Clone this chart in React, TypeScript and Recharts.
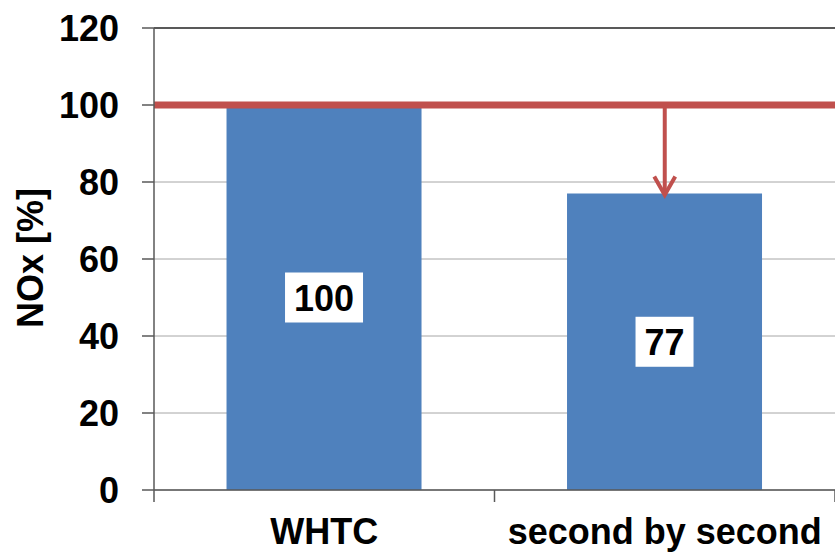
import React from 'react';
import { BarChart, Bar, XAxis, YAxis, CartesianGrid, ReferenceLine, LabelList, Label } from 'recharts';

const categories = ['WHTC', 'second by second'];
const noxValues = [100, 77];
const yTicks = [0, 20, 40, 60, 80, 100, 120];
const limitValue = 100;

const data = categories.map((name, i) => ({ name, nox: noxValues[i] }));

const AXIS = '#595959';
const RED = '#c0504d';
const BLUE = '#4f81bd';
const FONT = '"Liberation Sans", Arial, sans-serif';

// category label plus tick marks on the band boundaries (Excel style)
const CategoryTick = (props: any) => {
  const { x, y, payload, index, visibleTicksCount, width } = props;
  const half = payload.offset ?? (width ?? 681) / (visibleTicksCount || 2) / 2;
  const last = index === visibleTicksCount - 1;
  return (
    <g>
      <line x1={x - half} x2={x - half} y1={y} y2={y + 12} stroke={AXIS} strokeWidth={1.5} />
      {last && <line x1={x + half} x2={x + half} y1={y} y2={y + 12} stroke={AXIS} strokeWidth={1.5} />}
      <text x={x} y={y + 54} textAnchor="middle" fontFamily={FONT} fontWeight="bold" fontSize={36} fill="#000">
        {payload.value}
      </text>
    </g>
  );
};

const ValueBox = (props: any) => {
  const { x, y, width, height, value } = props;
  const cx = x + width / 2;
  const cy = y + height / 2;
  const w = String(value).length * 20 + 18;
  return (
    <g>
      <rect x={cx - w / 2} y={cy - 25} width={w} height={50} fill="#fff" />
      <text x={cx} y={cy + 13} textAnchor="middle" fontFamily={FONT} fontWeight="bold" fontSize={36} fill="#000">
        {value}
      </text>
    </g>
  );
};

const ArrowShape = (props: any) => {
  const { x1, y1, x2, y2 } = props;
  return (
    <g stroke={RED} strokeWidth={4} fill="none">
      <line x1={x1} y1={y1} x2={x2} y2={y2} />
      <polyline points={`${x2 - 10.5},${y2 - 17} ${x2},${y2 + 1.5} ${x2 + 10.5},${y2 - 17}`} />
    </g>
  );
};

const App = () => {
  return (
    <div style={{ position: 'absolute', left: 0, top: 0, background: '#fff' }}>
      <BarChart width={835} height={552} data={data} margin={{ top: 28, right: 0, left: 0, bottom: 0 }} barCategoryGap="21.3%">
        <CartesianGrid vertical={false} stroke="#a6a6a6" />
        <XAxis
          dataKey="name"
          height={62}
          tickLine={false}
          tickSize={0}
          tickMargin={0}
          axisLine={{ stroke: AXIS, strokeWidth: 1.5 }}
          tick={<CategoryTick />}
          interval={0}
        />
        <YAxis
          width={154}
          domain={[0, 120]}
          ticks={yTicks}
          interval={0}
          tickSize={12}
          tickMargin={23}
          axisLine={{ stroke: AXIS, strokeWidth: 1.5 }}
          tickLine={{ stroke: AXIS, strokeWidth: 1.5 }}
          tick={{ fill: '#000', fontSize: 36, fontWeight: 'bold', fontFamily: FONT }}
        >
          <Label
            content={() => (
              <text
                x={43}
                y={258}
                transform="rotate(-90, 43, 258)"
                textAnchor="middle"
                fontFamily={FONT}
                fontWeight="bold"
                fontSize={36}
                fill="#000"
              >
                NOx [%]
              </text>
            )}
          />
        </YAxis>
        <Bar dataKey="nox" fill={BLUE} isAnimationActive={false}>
          <LabelList dataKey="nox" content={<ValueBox />} />
        </Bar>
        <ReferenceLine y={120} stroke={AXIS} strokeWidth={2} />
        <ReferenceLine y={limitValue} stroke={RED} strokeWidth={7} />
        <ReferenceLine
          segment={[
            { x: categories[1], y: limitValue },
            { x: categories[1], y: noxValues[1] },
          ]}
          shape={<ArrowShape />}
        />
      </BarChart>
    </div>
  );
};

export default App;
